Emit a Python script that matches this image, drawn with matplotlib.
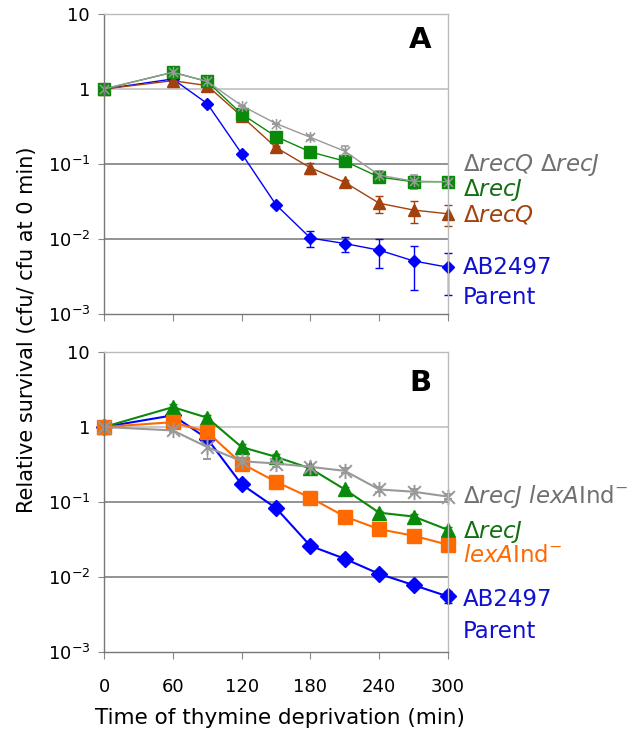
import numpy as np
import matplotlib
matplotlib.use("Agg")
import matplotlib.pyplot as plt
from matplotlib.path import Path

plt.rcParams['font.family'] = ['DejaVu Sans']
plt.rcParams['mathtext.fontset'] = 'custom'
plt.rcParams['mathtext.rm'] = 'DejaVu Sans'
plt.rcParams['mathtext.it'] = 'DejaVu Sans:italic'
plt.rcParams['mathtext.default'] = 'regular'

# ---------------- data ----------------
time = [0, 60, 90, 120, 150, 180, 210, 240, 270, 300]

# Panel A
a_parent = [1.0, 1.36, 0.64, 0.138, 0.0286, 0.0103, 0.0087, 0.0071, 0.0051, 0.0042]
a_parent_err = [0, 0, 0, 0, 0, 0.0025, 0.002, 0.003, 0.003, 0.0024]
a_recQ = [1.0, 1.29, 1.11, 0.433, 0.166, 0.089, 0.057, 0.030, 0.0243, 0.0217]
a_recQ_err = [0, 0, 0, 0, 0.01, 0.015, 0.004, 0.008, 0.008, 0.0067]
a_recJ = [1.0, 1.67, 1.26, 0.465, 0.232, 0.145, 0.109, 0.0668, 0.058, 0.058]
a_recJ_err = [0, 0, 0, 0, 0, 0, 0, 0.008, 0.006, 0.004]
a_recQJ = [1.0, 1.67, 1.26, 0.60, 0.346, 0.227, 0.148, 0.071, 0.059, 0.058]
a_recQJ_err = [0, 0, 0, 0, 0, 0.02, 0.025, 0.01, 0.012, 0.004]

# Panel B
b_parent = [1.0, 1.43, 0.70, 0.172, 0.083, 0.026, 0.0175, 0.011, 0.0078, 0.0055]
b_parent_err = [0, 0, 0, 0.02, 0.008, 0.003, 0.002, 0.001, 0.0008, 0.001]
b_recJ = [1.0, 1.84, 1.33, 0.54, 0.40, 0.28, 0.147, 0.072, 0.064, 0.0425]
b_recJ_err = [0, 0.2, 0.1, 0.05, 0.03, 0.02, 0.01, 0.005, 0.005, 0.004]
b_lexA = [1.0, 1.16, 0.86, 0.326, 0.186, 0.114, 0.064, 0.0434, 0.0355, 0.0269]
b_lexA_err = [0, 0, 0, 0, 0, 0.02, 0.004, 0.005, 0.003, 0.002]
b_recJlexA = [1.0, 0.90, 0.54, 0.35, 0.326, 0.294, 0.26, 0.147, 0.137, 0.118]
b_recJlexA_err = [0, 0.05, 0.16, 0.03, 0.03, 0.02, 0.02, 0.01, 0.01, 0.008]

yticks = [1e-3, 1e-2, 1e-1, 1, 10]
ytick_labels = [r'$10^{-3}$', r'$10^{-2}$', r'$10^{-1}$', '1', '10']
xticks = [0, 60, 120, 180, 240, 300]

# ---------------- colours ----------------
C_BLUE = '#0000ff'
C_GREEN = '#0a8a0a'
C_BROWN = '#a3400c'
C_GRAY = '#999999'
C_ORANGE = '#ff6a00'

# Excel-style "star" marker: X plus a vertical stroke
STAR = Path([(-1, -1), (1, 1), (-1, 1), (1, -1), (0, -1.2), (0, 1.2)],
            [Path.MOVETO, Path.LINETO, Path.MOVETO, Path.LINETO, Path.MOVETO, Path.LINETO])

W, H = 635, 737
fig = plt.figure(figsize=(W / 100, H / 100), dpi=100)

def px_ax(l, t, r, b):
    return [l / W, 1 - b / H, (r - l) / W, (b - t) / H]

axA = fig.add_axes(px_ax(104, 14, 448, 314))
axB = fig.add_axes(px_ax(104, 352, 448, 652))

def style(ax):
    ax.set_yscale('log')
    ax.set_ylim(1e-3, 10)
    ax.set_xlim(0, 300)
    ax.set_yticks(yticks)
    ax.set_yticklabels(ytick_labels, fontsize=13)
    ax.minorticks_off()
    ax.set_xticks(xticks)
    ax.set_xticklabels([] if ax is axA else [str(x) for x in xticks], fontsize=13)
    ax.tick_params(axis='x', length=5, color='#888888', pad=14)
    ax.tick_params(axis='y', length=4, color='#888888', pad=6)
    for s in ax.spines.values():
        s.set_color('#bbbbbb')
        s.set_linewidth(1.0)
    ax.spines['left'].set_color('#777777')
    ax.spines['bottom'].set_color('#777777')
    ax.axhline(1, color='#c0c0c0', lw=1.2, zorder=0)
    ax.axhline(0.1, color='#808080', lw=1.2, zorder=0)
    ax.axhline(0.01, color='#808080', lw=1.2, zorder=0)

style(axA)
style(axB)

ekw = dict(capsize=3, elinewidth=1.0, capthick=1.0)

def series(ax, y, e, **kw):
    cont = ax.errorbar(time, y, yerr=e, **ekw, **kw)
    for art in cont.get_children():
        art.set_clip_on(False)

# Panel A
series(axA, a_parent, a_parent_err, color=C_BLUE, marker='D', ms=6, lw=1.0)
series(axA, a_recQ, a_recQ_err, color=C_BROWN, marker='^', ms=8, lw=1.0)
series(axA, a_recJ, a_recJ_err, color=C_GREEN, marker='s', ms=8, lw=1.0)
series(axA, a_recQJ, a_recQJ_err, color=C_GRAY, marker=STAR, ms=8, mew=1.1, lw=1.0)

# Panel B
series(axB, b_parent, b_parent_err, color=C_BLUE, marker='D', ms=8, lw=1.5)
series(axB, b_recJ, b_recJ_err, color=C_GREEN, marker='^', ms=10, lw=1.5)
series(axB, b_lexA, b_lexA_err, color=C_ORANGE, marker='s', ms=10, lw=1.5)
series(axB, b_recJlexA, b_recJlexA_err, color=C_GRAY, marker=STAR, ms=11, mew=1.4, lw=1.5)

# Panel letters
fig.text(420 / W, 1 - 40 / H, 'A', fontsize=21, fontweight='bold', ha='center', va='center')
fig.text(420 / W, 1 - 383 / H, 'B', fontsize=21, fontweight='bold', ha='center', va='center')

# Right-hand labels
def lab(y, s, c):
    fig.text(463 / W, 1 - y / H, s, fontsize=16.5, color=c, ha='left', va='center')

lab(165, r'$\Delta\mathit{recQ}\ \Delta\mathit{recJ}$', '#707070')
lab(190, r'$\Delta\mathit{recJ}$', '#127012')
lab(215, r'$\Delta\mathit{recQ}$', '#a3400c')
lab(268, 'AB2497', '#1010d0')
lab(298, 'Parent', '#1010d0')

lab(497, r'$\Delta\mathit{recJ}\ \mathit{lexA}\mathrm{Ind}^{-}$', '#707070')
lab(532, r'$\Delta\mathit{recJ}$', '#127012')
lab(556, r'$\mathit{lexA}\mathrm{Ind}^{-}$', '#ff6a00')
lab(600, 'AB2497', '#1010d0')
lab(632, 'Parent', '#1010d0')

# Axis labels
fig.text(27 / W, 1 - 330 / H, 'Relative survival (cfu/ cfu at 0 min)', fontsize=15,
         rotation=90, ha='center', va='center')
fig.text(280 / W, 1 - 718 / H, 'Time of thymine deprivation (min)', fontsize=15.5,
         ha='center', va='center')

fig.savefig('out.png', dpi=100)
